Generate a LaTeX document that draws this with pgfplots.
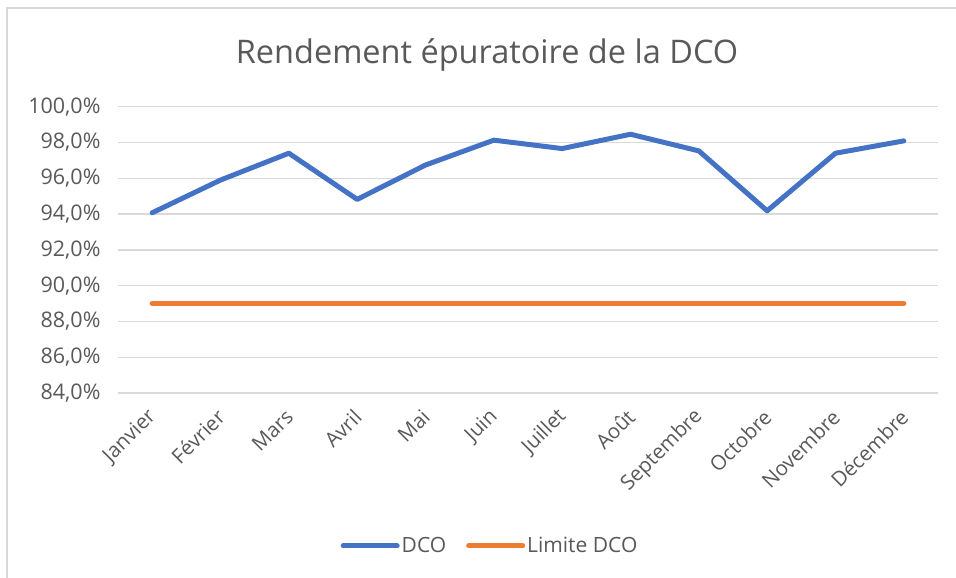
\documentclass[border=0pt]{standalone}
\usepackage{pgfplots}
\pgfplotsset{compat=1.18}
\usepackage{fontspec}
\setmainfont{Open Sans}
\definecolor{txt}{HTML}{595959}
\definecolor{grd}{HTML}{D9D9D9}
\definecolor{blu}{HTML}{4472C4}
\definecolor{org}{HTML}{ED7D31}
\begin{document}
\begin{tikzpicture}[x=1pt,y=1pt]
\useasboundingbox (0,0) rectangle (956,578);
\draw[color=grd, line width=1.6pt] (7,-10) -- (7,570) -- (970,570);
\node[txt, anchor=base, font=\fontsize{32.5}{38}\selectfont] at (487,514) {Rendement épuratoire de la DCO};
\begin{axis}[
  at={(118pt,185pt)}, anchor=south west,
  scale only axis, width=820pt, height=286.3pt,
  xmin=-0.5, xmax=11.5, ymin=84, ymax=100,
  axis line style={draw=none}, tick style={draw=none},
  ymajorgrids, major grid style={color=grd, line width=1.4pt},
  ytick={84,86,88,90,92,94,96,98,100},
  yticklabels={{84,0\%},{86,0\%},{88,0\%},{90,0\%},{92,0\%},{94,0\%},{96,0\%},{98,0\%},{100,0\%}},
  yticklabel style={font=\fontsize{21.5}{25}\selectfont, color=txt, anchor=east, xshift=-14pt},
  xtick={0,...,11},
  xticklabels={Janvier,Février,Mars,Avril,Mai,Juin,Juillet,Août,Septembre,Octobre,Novembre,Décembre},
  xticklabel style={font=\fontsize{20.5}{24}\selectfont, color=txt, yshift=-18pt, xshift=3pt, rotate=45, anchor=east},
  legend columns=2,
  legend style={draw=none, at={(axis description cs:0.4537,-0.534)}, anchor=center,
    font=\fontsize{21}{26}\selectfont, text=txt, inner sep=0pt,
    /tikz/every even column/.append style={column sep=18pt}},
  legend image code/.code={\draw[#1, line cap=round] (0pt,0pt) -- (54pt,0pt);},
]
\addplot[blu, line width=5pt, line join=round, line cap=round] coordinates {
(0,94.07) (1,95.9) (2,97.4) (3,94.82) (4,96.74) (5,98.13) (6,97.66) (7,98.46) (8,97.53) (9,94.18) (10,97.4) (11,98.09)};
\addlegendentry{DCO}
\addplot[org, line width=5pt, line cap=round] coordinates {
(0,89) (1,89) (2,89) (3,89) (4,89) (5,89) (6,89) (7,89) (8,89) (9,89) (10,89) (11,89)};
\addlegendentry{Limite DCO}
\end{axis}
\end{tikzpicture}
\end{document}
